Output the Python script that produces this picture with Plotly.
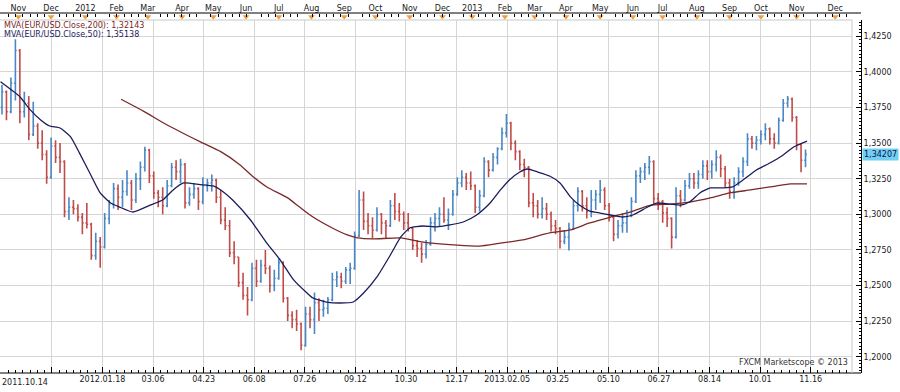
import plotly.graph_objects as go

# ---------------- data (EUR/USD daily, sampled every 3 trading days) ----------------
bar_idx = list(range(0, 541, 3))

open_ = [1.375, 1.386, 1.372, 1.392, 1.415, 1.372, 1.378, 1.356, 1.362, 1.350,
         1.342, 1.326, 1.348, 1.340, 1.337, 1.302, 1.305, 1.304, 1.298, 1.294,
         1.293, 1.271, 1.281, 1.277, 1.297, 1.307, 1.318, 1.312, 1.316, 1.322,
         1.310, 1.325, 1.333, 1.345, 1.327, 1.315, 1.312, 1.306, 1.320, 1.333,
         1.330, 1.335, 1.308, 1.314, 1.318, 1.309, 1.320, 1.322, 1.324, 1.312,
         1.296, 1.292, 1.273, 1.270, 1.252, 1.243, 1.240, 1.262, 1.253, 1.264,
         1.262, 1.250, 1.255, 1.266, 1.241, 1.229, 1.226, 1.223, 1.208, 1.230,
         1.226, 1.238, 1.233, 1.234, 1.240, 1.254, 1.256, 1.253, 1.261, 1.262,
         1.285, 1.310, 1.295, 1.292, 1.289, 1.300, 1.294, 1.292, 1.306, 1.302,
         1.300, 1.294, 1.290, 1.278, 1.276, 1.272, 1.279, 1.294, 1.297, 1.300,
         1.296, 1.300, 1.314, 1.322, 1.326, 1.322, 1.320, 1.305, 1.313, 1.337,
         1.331, 1.340, 1.346, 1.357, 1.364, 1.350, 1.344, 1.335, 1.333, 1.308,
         1.306, 1.300, 1.304, 1.300, 1.292, 1.290, 1.281, 1.284, 1.290, 1.306,
         1.316, 1.306, 1.302, 1.310, 1.314, 1.317, 1.306, 1.298, 1.286, 1.292,
         1.294, 1.299, 1.309, 1.327, 1.330, 1.333, 1.337, 1.311, 1.309, 1.301,
         1.297, 1.284, 1.313, 1.310, 1.320, 1.325, 1.322, 1.328, 1.334, 1.330,
         1.335, 1.340, 1.332, 1.322, 1.316, 1.322, 1.330, 1.337, 1.353, 1.350,
         1.352, 1.356, 1.360, 1.353, 1.350, 1.366, 1.378, 1.381, 1.368, 1.349,
         1.338]

high = [1.391, 1.387, 1.396, 1.423, 1.416, 1.386, 1.383, 1.379, 1.364, 1.359,
        1.345, 1.354, 1.352, 1.350, 1.338, 1.312, 1.310, 1.307, 1.301, 1.308,
        1.294, 1.287, 1.284, 1.301, 1.310, 1.322, 1.321, 1.324, 1.331, 1.324,
        1.329, 1.337, 1.3475, 1.346, 1.330, 1.317, 1.319, 1.324, 1.336, 1.338,
        1.339, 1.336, 1.319, 1.322, 1.319, 1.326, 1.325, 1.328, 1.325, 1.317,
        1.305, 1.296, 1.281, 1.270, 1.259, 1.249, 1.266, 1.268, 1.268, 1.275,
        1.264, 1.261, 1.269, 1.267, 1.242, 1.232, 1.233, 1.224, 1.235, 1.235,
        1.245, 1.241, 1.240, 1.242, 1.259, 1.260, 1.259, 1.263, 1.266, 1.288,
        1.317, 1.316, 1.301, 1.298, 1.305, 1.301, 1.296, 1.310, 1.315, 1.308,
        1.302, 1.301, 1.291, 1.282, 1.280, 1.282, 1.298, 1.301, 1.305, 1.312,
        1.304, 1.317, 1.326, 1.331, 1.329, 1.330, 1.321, 1.317, 1.340, 1.338,
        1.343, 1.347, 1.361, 1.3705, 1.365, 1.352, 1.345, 1.339, 1.334, 1.315,
        1.310, 1.312, 1.308, 1.302, 1.296, 1.291, 1.289, 1.294, 1.310, 1.319,
        1.317, 1.312, 1.317, 1.317, 1.324, 1.319, 1.308, 1.299, 1.296, 1.301,
        1.303, 1.312, 1.331, 1.333, 1.336, 1.341, 1.338, 1.315, 1.310, 1.305,
        1.298, 1.319, 1.317, 1.324, 1.329, 1.329, 1.331, 1.338, 1.338, 1.338,
        1.345, 1.342, 1.334, 1.325, 1.326, 1.333, 1.340, 1.357, 1.355, 1.355,
        1.359, 1.364, 1.361, 1.357, 1.368, 1.381, 1.383, 1.382, 1.369, 1.350,
        1.3455]

low = [1.370, 1.366, 1.371, 1.380, 1.364, 1.368, 1.352, 1.355, 1.346, 1.338,
       1.3215, 1.325, 1.336, 1.329, 1.298, 1.296, 1.300, 1.295, 1.286, 1.290,
       1.268, 1.268, 1.2625, 1.276, 1.293, 1.304, 1.303, 1.305, 1.313, 1.303,
       1.308, 1.317, 1.330, 1.322, 1.311, 1.305, 1.300, 1.305, 1.319, 1.324,
       1.322, 1.304, 1.306, 1.311, 1.303, 1.307, 1.316, 1.316, 1.308, 1.293,
       1.289, 1.270, 1.265, 1.249, 1.240, 1.229, 1.239, 1.249, 1.252, 1.258,
       1.245, 1.246, 1.254, 1.238, 1.225, 1.220, 1.218, 1.2045, 1.207, 1.220,
       1.216, 1.225, 1.228, 1.230, 1.239, 1.249, 1.248, 1.251, 1.251, 1.261,
       1.284, 1.289, 1.286, 1.283, 1.288, 1.286, 1.283, 1.291, 1.296, 1.295,
       1.289, 1.288, 1.275, 1.270, 1.266, 1.269, 1.278, 1.288, 1.291, 1.294,
       1.289, 1.299, 1.313, 1.319, 1.317, 1.317, 1.301, 1.302, 1.312, 1.326,
       1.330, 1.335, 1.345, 1.354, 1.345, 1.338, 1.331, 1.326, 1.305, 1.298,
       1.297, 1.297, 1.296, 1.288, 1.286, 1.276, 1.279, 1.2745, 1.289, 1.302,
       1.302, 1.297, 1.298, 1.303, 1.308, 1.303, 1.295, 1.281, 1.283, 1.287,
       1.287, 1.298, 1.308, 1.322, 1.324, 1.328, 1.307, 1.303, 1.294, 1.291,
       1.276, 1.283, 1.305, 1.309, 1.318, 1.318, 1.318, 1.325, 1.324, 1.325,
       1.330, 1.326, 1.319, 1.311, 1.311, 1.320, 1.326, 1.334, 1.346, 1.345,
       1.349, 1.352, 1.349, 1.346, 1.349, 1.365, 1.375, 1.365, 1.345, 1.3295,
       1.333]

close = [1.386, 1.372, 1.392, 1.415, 1.372, 1.378, 1.356, 1.362, 1.350, 1.342,
         1.326, 1.348, 1.340, 1.337, 1.302, 1.305, 1.304, 1.298, 1.294, 1.293,
         1.271, 1.281, 1.277, 1.297, 1.307, 1.318, 1.312, 1.316, 1.322, 1.310,
         1.325, 1.333, 1.345, 1.327, 1.315, 1.312, 1.306, 1.320, 1.333, 1.330,
         1.335, 1.308, 1.314, 1.318, 1.309, 1.320, 1.322, 1.324, 1.312, 1.296,
         1.292, 1.273, 1.270, 1.252, 1.243, 1.240, 1.262, 1.253, 1.264, 1.262,
         1.250, 1.255, 1.266, 1.241, 1.229, 1.226, 1.223, 1.208, 1.230, 1.226,
         1.238, 1.233, 1.234, 1.240, 1.254, 1.256, 1.253, 1.261, 1.262, 1.285,
         1.310, 1.295, 1.292, 1.289, 1.300, 1.294, 1.292, 1.306, 1.302, 1.300,
         1.294, 1.290, 1.278, 1.276, 1.272, 1.279, 1.294, 1.297, 1.300, 1.296,
         1.300, 1.314, 1.322, 1.326, 1.322, 1.320, 1.305, 1.313, 1.337, 1.331,
         1.340, 1.346, 1.357, 1.364, 1.350, 1.344, 1.335, 1.333, 1.308, 1.306,
         1.300, 1.304, 1.300, 1.292, 1.290, 1.281, 1.284, 1.290, 1.306, 1.316,
         1.306, 1.302, 1.310, 1.314, 1.317, 1.306, 1.298, 1.286, 1.292, 1.294,
         1.299, 1.309, 1.327, 1.330, 1.333, 1.337, 1.311, 1.309, 1.301, 1.297,
         1.284, 1.313, 1.310, 1.320, 1.325, 1.322, 1.328, 1.334, 1.330, 1.335,
         1.340, 1.332, 1.322, 1.316, 1.322, 1.330, 1.337, 1.353, 1.350, 1.352,
         1.356, 1.360, 1.353, 1.350, 1.366, 1.378, 1.381, 1.368, 1.349, 1.338,
         1.34207]

ma50_idx = [-1, 12, 19, 26, 32, 39, 46, 52, 59, 66, 73, 79, 88, 100, 108, 115, 122, 133,
            142, 147, 155, 167, 178, 187, 196, 205, 209, 218, 227, 236, 243, 252, 261,
            268, 274, 283, 292, 301, 310, 319, 328, 335, 341, 348, 353, 360, 368, 375,
            382, 388, 395, 402, 409, 417, 424, 434, 440, 449, 456, 462, 469, 476, 485,
            491, 498, 507, 516, 525, 532, 538, 541]
ma50_val = [1.3931, 1.3826, 1.3733, 1.3662, 1.3620, 1.3606, 1.3545, 1.3431, 1.3290, 1.3150,
            1.3079, 1.3051, 1.3016, 1.3066, 1.3100, 1.3171, 1.3220, 1.3209, 1.3199, 1.3171,
            1.3100, 1.2960, 1.2798, 1.2679, 1.2539, 1.2447, 1.2412, 1.2384, 1.2377, 1.2384,
            1.2447, 1.2560, 1.2714, 1.2841, 1.2904, 1.2918, 1.2911, 1.2925, 1.2946, 1.2995,
            1.3079, 1.3171, 1.3241, 1.3297, 1.3318, 1.3297, 1.3269, 1.3220, 1.3122, 1.3065,
            1.3023, 1.3009, 1.2995, 1.2981, 1.2995, 1.3051, 1.3079, 1.3072, 1.3065, 1.3086,
            1.3150, 1.3185, 1.3185, 1.3192, 1.3241, 1.3311, 1.3360, 1.3417, 1.3473, 1.3501,
            1.35138]

ma200_idx = [80, 95, 111, 133, 147, 160, 169, 178, 192, 200, 209, 222, 232, 239, 249, 268,
             283, 306, 321, 335, 350, 368, 382, 395, 409, 422, 436, 449, 462, 476, 489, 503,
             516, 530, 541]
ma200_val = [1.3808, 1.3725, 1.3627, 1.3510, 1.3440, 1.3347, 1.3262, 1.3192, 1.3115, 1.3051,
             1.2981, 1.2904, 1.2855, 1.2834, 1.2827, 1.2834, 1.2805, 1.2784, 1.2777, 1.2798,
             1.2820, 1.2869, 1.2890, 1.2939, 1.2981, 1.3016, 1.3065, 1.3072, 1.3086, 1.3115,
             1.3150, 1.3171, 1.3192, 1.3213, 1.32143]

price_ticks = [1.2000, 1.2250, 1.2500, 1.2750, 1.3000, 1.3250, 1.3500, 1.3750, 1.4000, 1.4250]
price_tick_text = ["1,2000", "1,2250", "1,2500", "1,2750", "1,3000", "1,3250", "1,3500",
                   "1,3750", "1,4000", "1,4250"]

date_tick_idx = [33.5, 67.5, 101.5, 135.5, 169.5, 203.5, 237.5, 271.5, 305.5, 339.5,
                 373.5, 407.5, 441.5, 475.5, 509.5, 543.5]
date_tick_text = ["", "2012.01.18", "03.06", "04.23", "06.08", "07.26", "09.12", "10.30",
                  "12.17", "2013.02.05", "03.25", "05.10", "06.27", "08.14", "10.01", "11.16"]
first_date_label = "2011.10.14"

month_idx = [11, 33, 56, 77, 98, 121, 142, 164, 186, 208, 230, 251, 274, 296, 316, 338,
             358, 379, 402, 424, 444, 467, 489, 510, 534, 560]
month_text = ["Nov", "Dec", "2012", "Feb", "Mar", "Apr", "May", "Jun", "Jul", "Aug", "Sep",
              "Oct", "Nov", "Dec", "2013", "Feb", "Mar", "Apr", "May", "Jun", "Jul", "Aug",
              "Sep", "Oct", "Nov", "Dec"]

last_price = 1.34207
last_price_text = "1,34207"
ma200_label = "MVA(EUR/USD.Close,200): 1,32143"
ma50_label = "MVA(EUR/USD.Close,50): 1,35138"
credit = "FXCM Marketscope © 2013"

# ---------------- geometry / style ----------------
W, H = 900, 392
ML, MR, MT, MB = 0, 39, 13, 19
PW = W - ML - MR            # 861
PH = H - MT - MB            # 360
FRAME_R = 852 / PW          # gray frame right edge (paper x)
YTOP = (373 - 20) / PH      # top of price plot (paper y)
XMIN, XMAX = -1.344, 571.24
YMIN, YMAX = 1.18855, 1.43645

UP = "#4a88c4"
DOWN = "#c04c4a"
MA50_C = "#1c1c5c"
MA200_C = "#7a2828"
GRID = "#d6d6d6"
FONT = "DejaVu Sans"
FS = 8
TXT = "#1a1a1a"

minor_x = []
for k in range(-1, 18):
    for j in range(1, 7):
        minor_x.append(33.5 + 34 * k + j * 34 / 7)

fig = go.Figure()

fig.add_trace(go.Ohlc(
    x=bar_idx, open=open_, high=high, low=low, close=close,
    increasing=dict(line=dict(color=UP, width=1.6)),
    decreasing=dict(line=dict(color=DOWN, width=1.6)),
    tickwidth=0.3, hoverinfo="skip", showlegend=False,
))
fig.add_trace(go.Scatter(x=ma200_idx, y=ma200_val, mode="lines",
                         line=dict(color=MA200_C, width=1.3, shape="spline", smoothing=0.5),
                         hoverinfo="skip", showlegend=False))
fig.add_trace(go.Scatter(x=ma50_idx, y=ma50_val, mode="lines",
                         line=dict(color=MA50_C, width=1.3, shape="spline", smoothing=0.5),
                         hoverinfo="skip", showlegend=False))
# orange month markers on the top ruler
fig.add_trace(go.Scatter(x=month_idx, y=[0.45] * len(month_idx), xaxis="x2", yaxis="y2",
                         mode="markers", marker=dict(symbol="triangle-down", size=6,
                                                     color="#eea040", line=dict(width=0)),
                         cliponaxis=False, hoverinfo="skip", showlegend=False))

fig.update_layout(
    width=W, height=H,
    margin=dict(l=ML, r=MR, t=MT, b=MB, pad=0),
    paper_bgcolor="white", plot_bgcolor="white",
    showlegend=False,
    font=dict(family=FONT, size=FS, color=TXT),
    xaxis=dict(
        domain=[0, FRAME_R], range=[XMIN, XMAX], anchor="y",
        rangeslider=dict(visible=False),
        tickmode="array", tickvals=date_tick_idx, ticktext=date_tick_text,
        ticks="inside", ticklen=6, tickcolor="#000000", tickwidth=1,
        showline=False, showgrid=True, gridcolor=GRID, gridwidth=1, zeroline=False,
        minor=dict(tickvals=minor_x, ticks="inside", ticklen=3, tickcolor="#000000",
                   showgrid=False),
        tickfont=dict(family=FONT, size=FS, color=TXT),
        fixedrange=True,
    ),
    xaxis2=dict(
        overlaying="x", side="top", anchor="free", position=1,
        range=[XMIN, XMAX],
        tickmode="array", tickvals=month_idx, ticktext=month_text,
        ticks="", showline=False, showgrid=False, zeroline=False,
        minor=dict(tickvals=minor_x, ticks="inside", ticklen=3, tickcolor="#000000",
                   showgrid=False),
        tickfont=dict(family=FONT, size=FS, color=TXT),
        fixedrange=True,
    ),
    yaxis=dict(
        domain=[0, YTOP], range=[YMIN, YMAX], side="right", anchor="free", position=1,
        tickmode="array", tickvals=price_ticks, ticktext=price_tick_text,
        ticks="inside", ticklen=5, tickcolor="#000000",
        showline=True, linecolor="#000000", linewidth=1,
        showgrid=True, gridcolor=GRID, gridwidth=1, zeroline=False,
        minor=dict(tick0=1.2, dtick=0.0025, ticks="inside", ticklen=2, tickcolor="#000000",
                   showgrid=False),
        tickfont=dict(family=FONT, size=FS, color=TXT),
        fixedrange=True,
    ),
    yaxis2=dict(domain=[YTOP, 1], range=[0, 1], visible=False, anchor="x2", fixedrange=True),
    shapes=[
        dict(type="line", xref="paper", yref="paper", x0=0, x1=1, y0=1, y1=1,
             line=dict(color="#000000", width=1)),
        dict(type="line", xref="paper", yref="paper", x0=0, x1=1, y0=0, y1=0,
             line=dict(color="#000000", width=1)),
        dict(type="line", xref="paper", yref="paper", x0=0, x1=FRAME_R, y0=YTOP, y1=YTOP,
             line=dict(color="#c8c8c8", width=1)),
        dict(type="line", xref="paper", yref="paper", x0=FRAME_R, x1=FRAME_R, y0=0, y1=YTOP,
             line=dict(color="#c8c8c8", width=1)),
    ],
    annotations=[
        dict(text=ma200_label, xref="paper", yref="paper", x=0.002, y=(373 - 26) / PH,
             xanchor="left", yanchor="middle", showarrow=False,
             font=dict(family=FONT, size=FS, color=MA200_C)),
        dict(text=ma50_label, xref="paper", yref="paper", x=0.002, y=(373 - 34.3) / PH,
             xanchor="left", yanchor="middle", showarrow=False,
             font=dict(family=FONT, size=FS, color=MA50_C)),
        dict(text=first_date_label, xref="paper", yref="paper", x=0, y=(373 - 383) / PH,
             xanchor="left", yanchor="middle", showarrow=False,
             font=dict(family=FONT, size=FS, color=TXT)),
        dict(text=credit, xref="paper", yref="paper", x=850 / PW, y=(373 - 362) / PH,
             xanchor="right", yanchor="middle", showarrow=False,
             font=dict(family=FONT, size=FS, color="#333333")),
        dict(text=last_price_text, xref="paper", yref="y", x=1.0, y=last_price,
             xanchor="left", yanchor="middle", showarrow=False, xshift=1,
             bgcolor="#70d0f4", borderpad=1,
             font=dict(family=FONT, size=FS, color="#10104a")),
    ],
)

fig.write_html("out.html",
               config={"displayModeBar": False, "staticPlot": True},
               post_script="document.body.style.margin='0px';document.body.style.padding='0px';")
